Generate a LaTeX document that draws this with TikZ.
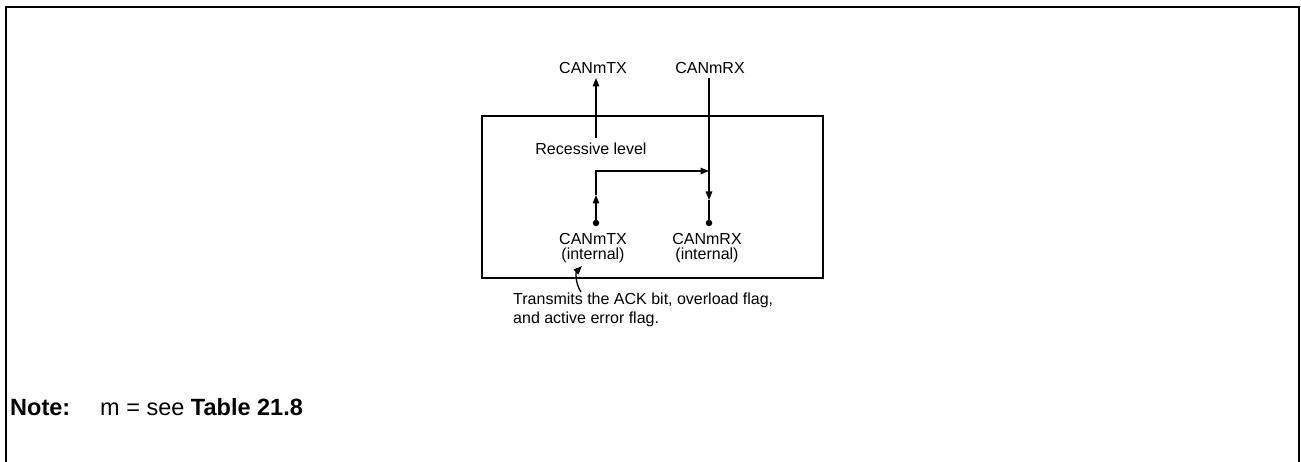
\documentclass[tikz,border=0pt]{standalone}
\usepackage{fontspec}
\setmainfont{Liberation Sans}
\usetikzlibrary{arrows.meta}
\begin{document}
\begin{tikzpicture}[x=1bp,y=-1bp,
  lbl/.style={font=\fontsize{16bp}{15bp}\selectfont,inner sep=0pt},
  notefont/.style={font=\fontsize{23.5bp}{28bp}\selectfont,inner sep=0pt,anchor=base west},
  wire/.style={line width=1.3bp},
  tip/.style={-{Triangle[length=8.5bp,width=6.5bp]}},
  pin/.style={circle,fill=black,inner sep=0pt,minimum size=6.5bp}]
\useasboundingbox (0,0) rectangle (1301,462);
% outer frame (open at bottom)
\draw[line width=2bp] (6,462) -- (6,7) -- (1299,7) -- (1299,462);
% inner block
\draw[wire] (482,116) rectangle (823,278);
% top labels
\node[lbl,anchor=base] (tx) at (593,74) {CANmTX};
\node[lbl,anchor=base] (rx) at (710,74) {CANmRX};
\node[lbl,anchor=base] (rec) at (591,155) {Recessive level};
% internal pins
\node[pin] (dtx) at (596,223) {};
\node[pin] (drx) at (709,223) {};
\node[lbl,anchor=north,align=center] (ltx) at (593,233) {CANmTX\\(internal)};
\node[lbl,anchor=north,align=center] (lrx) at (707,233) {CANmRX\\(internal)};
% coordinates
\coordinate (recTop) at (596,138);
\coordinate (txTip) at (596,78);
\coordinate (rxTop) at (709,78);
\coordinate (rxMid) at (709,200);
\coordinate (txUp) at (596,195);
\coordinate (corner) at (596,171);
\coordinate (join) at (709,171);
% connectors
\draw[wire,tip] (recTop) -- (txTip);
\draw[wire,tip] (rxTop) -- (rxMid);
\draw[wire] (rxMid) -- (drx);
\draw[wire,tip] (dtx) -- (txUp);
\draw[wire,tip] (txUp) -- (corner) -- (join);
% annotation
\node[lbl,anchor=north west,align=left,font=\fontsize{16bp}{19bp}\selectfont] (ann) at (513,292.5)
  {Transmits the ACK bit, overload flag,\\and active error flag.};
\coordinate (annTail) at (581,292);
\coordinate (annTip) at (582,266);
\draw[wire,tip] (annTail) .. controls (575,283) and (576,272) .. (annTip);
% note
\node[notefont] (note) at (10,415) {\bfseries Note:};
\node[notefont] (notetext) at (100,415) {m = see \textbf{Table 21.8}};
\end{tikzpicture}
\end{document}
